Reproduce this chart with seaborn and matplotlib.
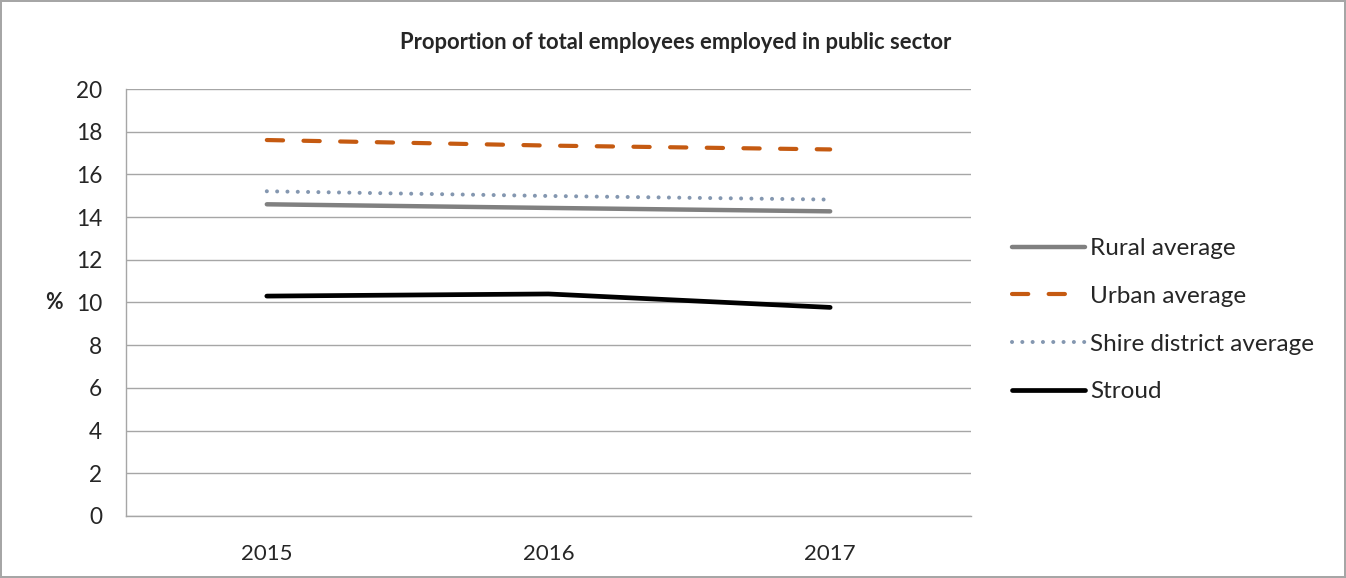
import pandas as pd
import numpy as np
import seaborn as sns
import matplotlib.pyplot as plt

years = ['2015', '2016', '2017']
rural = [14.60, 14.43, 14.27]
urban = [17.61, 17.35, 17.17]
shire = [15.21, 14.99, 14.82]
stroud = [10.30, 10.40, 9.77]
series_names = ['Rural average', 'Urban average', 'Shire district average', 'Stroud']

df = pd.DataFrame({
    'year': years * 4,
    'pos': list(range(len(years))) * 4,
    'value': rural + urban + shire + stroud,
    'series': np.repeat(series_names, len(years)),
})

sns.set_style('white')
plt.rcParams['font.family'] = ['Lato', 'DejaVu Sans']

fig = plt.figure(figsize=(13.46, 5.78), dpi=100, edgecolor='#a6a6a6', linewidth=1.5)
ax = fig.add_axes([0.0936, 0.1073, 0.6278, 0.7387])

colors = {'Rural average': '#808080', 'Urban average': '#C55A11',
          'Shire district average': '#8497B0', 'Stroud': '#000000'}
styles = {'Rural average': '-', 'Urban average': (0, (3.9, 4.9)),
          'Shire district average': (0, (0.01, 2.55)), 'Stroud': '-'}
widths = {'Rural average': 3.2, 'Urban average': 3.0,
          'Shire district average': 2.9, 'Stroud': 3.4}

for name in series_names:
    sub = df[df['series'] == name]
    sns.lineplot(data=sub, x='pos', y='value', ax=ax, color=colors[name],
                 linestyle=styles[name], linewidth=widths[name], label=name,
                 dash_capstyle='round', solid_capstyle='round')

ax.set_xlim(-0.5, len(years) - 0.5)
ax.set_ylim(0, 20)
ax.set_yticks(range(0, 21, 2))
ax.set_xticks(np.arange(-0.5, len(years), 1.0))
ax.set_xticklabels([])
ax.set_xticks(range(len(years)), minor=True)
ax.set_xticklabels(years, minor=True)
ax.tick_params(axis='x', which='major', length=7, color='#a6a6a6', width=1, direction='out')
ax.tick_params(axis='x', which='minor', length=0, pad=20, labelsize=16)
ax.tick_params(axis='y', length=6, color='#a6a6a6', width=1, direction='out', pad=11, labelsize=16.3)
ax.grid(axis='y', color='#a6a6a6', linewidth=1)
ax.set_axisbelow(True)
for side in ['top', 'right']:
    ax.spines[side].set_visible(False)
for side in ['left', 'bottom']:
    ax.spines[side].set_color('#a6a6a6')
    ax.spines[side].set_linewidth(1)

ax.set_xlabel('')
ax.set_ylabel('%', rotation=0, fontsize=15.5, fontweight='bold', va='center')
ax.yaxis.set_label_coords(-0.085, 0.5)

fig.suptitle('Proportion of total employees employed in public sector',
             x=0.502, y=0.945, fontsize=15.8, fontweight='bold')

ax.legend(loc='center left', bbox_to_anchor=(0.752, 0.446), bbox_transform=fig.transFigure,
          frameon=False, fontsize=17.5, handlelength=3.0, handletextpad=0.2,
          labelspacing=1.1, borderpad=0, borderaxespad=0)

fig.savefig('out.png', dpi=100, edgecolor=fig.get_edgecolor())
